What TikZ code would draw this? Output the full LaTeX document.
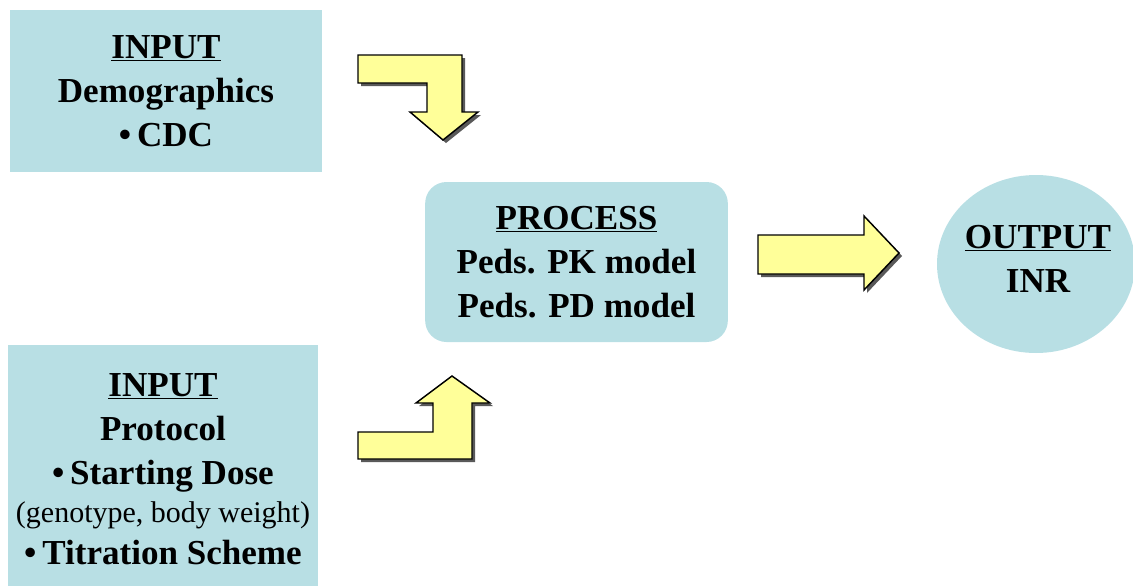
\documentclass[tikz,border=0pt]{standalone}
\usepackage{fontspec}
\setmainfont{Liberation Serif}
\usetikzlibrary{positioning,shapes.geometric}
\definecolor{paleblue}{RGB}{184,223,228}
\definecolor{paleyellow}{RGB}{255,255,153}
% outlines of the three block arrows (pixel grid)
\newcommand{\downbend}{(358,55) -- (462,55) -- (462,112) -- (478,112) -- (443,140) -- (410,112) -- (427,112) -- (427,83) -- (358,83) -- cycle}
\newcommand{\upbend}{(358,459) -- (472,459) -- (472,403) -- (490,403) -- (452,376) -- (416,403) -- (433,403) -- (433,432) -- (358,432) -- cycle}
\newcommand{\rightblock}{(758,235) -- (864,235) -- (864,216) -- (899,253) -- (864,290) -- (864,274) -- (758,274) -- cycle}

\begin{document}
\begin{tikzpicture}[
  x=0.75pt,y=-0.75pt,
  font=\fontsize{26.3}{33}\selectfont\bfseries,
  box/.style={fill=paleblue,align=center,inner sep=0pt},
  blockarr/.style={fill=paleyellow,draw=black,line width=1.1pt,line join=miter},
  drop/.style={fill=black!65,shift={(3,3)}}
]
\useasboundingbox (0,0) rectangle (1133,586);
\node[box,minimum width=234pt,minimum height=121.5pt] (demo) at (166,91)
  {\underline{INPUT}\\Demographics\\\textbullet\,CDC};
\node[box,minimum width=232.5pt,minimum height=180.75pt] (proto) at (163,465.5) {};
\node[align=center,inner sep=0pt] (prototxt) at (163,469)
  {\underline{INPUT}\\Protocol\\\textbullet\,Starting Dose\\[-4pt]
   {\fontsize{22.5}{28}\selectfont\mdseries (genotype, body weight)}\\[-2pt]
   \textbullet\,Titration Scheme};
\node[box,rounded corners=16pt,minimum width=227pt,minimum height=120pt] (proc) at (576.5,262)
  {\underline{PROCESS}\\Peds. PK model\\Peds. PD model};
\node[box,ellipse,minimum width=148.5pt,minimum height=133.5pt] (out) at (1036,264) {};
\node[align=center,inner sep=0pt] (outtxt) at (1038,258.5) {\underline{OUTPUT}\\INR};
% block arrows with drop shadows
\fill[drop] \downbend;
\filldraw[blockarr] \downbend;
\fill[drop] \upbend;
\filldraw[blockarr] \upbend;
\fill[drop] \rightblock;
\filldraw[blockarr] \rightblock;
\end{tikzpicture}
\end{document}
